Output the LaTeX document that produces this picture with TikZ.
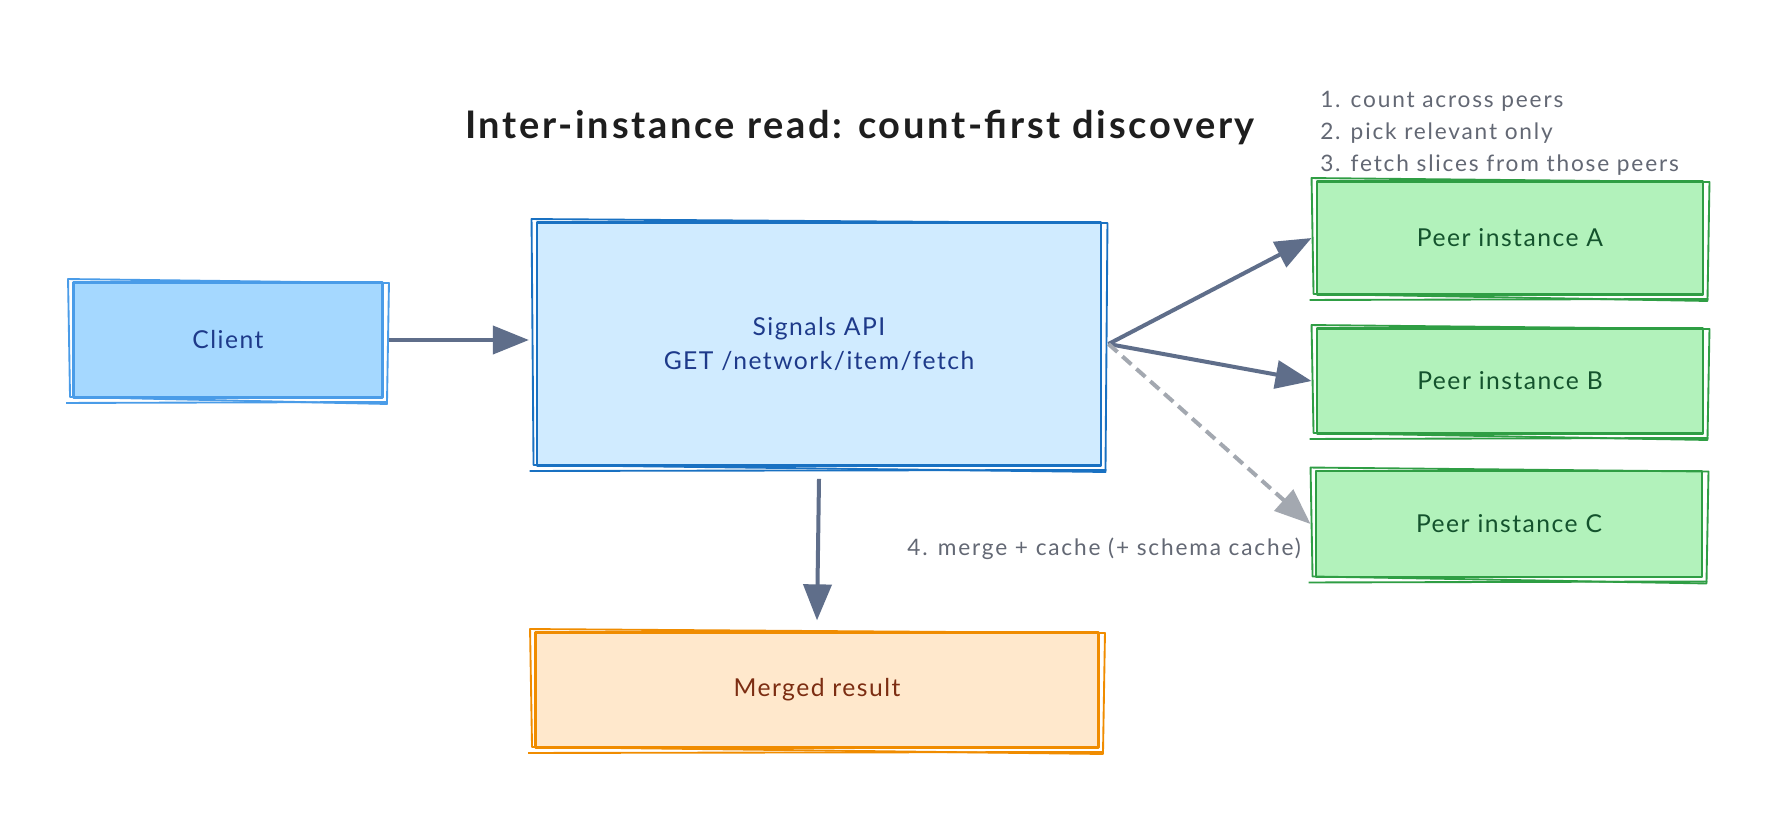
\documentclass[tikz,border=0pt]{standalone}
\usepackage{fontspec}
\setmainfont{Lato}
\usetikzlibrary{arrows.meta,calc}
\definecolor{clientfill}{HTML}{A5D8FF}
\definecolor{clientline}{HTML}{4A9CE8}
\definecolor{apifill}{HTML}{D0EBFF}
\definecolor{apiline}{HTML}{1971C2}
\definecolor{peerfill}{HTML}{B2F2BB}
\definecolor{peerline}{HTML}{2F9E44}
\definecolor{mergefill}{HTML}{FFE8CC}
\definecolor{mergeline}{HTML}{F08C00}
\definecolor{bluetext}{HTML}{1E3A8A}
\definecolor{greentext}{HTML}{14532D}
\definecolor{browntext}{HTML}{7C2D12}
\definecolor{arrowcol}{HTML}{5F6E8A}
\definecolor{dashcol}{HTML}{A3A8B0}
\definecolor{notecol}{HTML}{636874}
\definecolor{titlecol}{HTML}{1E1E1E}
\newcommand{\sketchbox}[2]{%
  \draw[#2, line width=1.4pt, line join=round]
    ([shift={(-4,-2)}]#1.north west) -- ([shift={(5,2)}]#1.north east)
    -- ([shift={(3,5)}]#1.south east) -- ([shift={(-2,-2)}]#1.south west) -- cycle;
  \draw[#2, line width=1.4pt]
    ([shift={(-6,4)}]#1.south west) -- ([shift={(4,3)}]#1.south east);
}
\tikzset{
  box/.style={draw, line width=2.2pt, line join=round, inner sep=0pt,
    font=\fontsize{18.5}{25}\selectfont\addfontfeature{LetterSpace=6}, align=center},
  clientbox/.style={box, fill=clientfill, draw=clientline, text=bluetext},
  apibox/.style={box, fill=apifill, draw=apiline, text=bluetext},
  peerbox/.style={box, fill=peerfill, draw=peerline, text=greentext,
    minimum width=289.5pt},
  mergebox/.style={box, fill=mergefill, draw=mergeline, text=browntext},
  arr/.style={draw=arrowcol, line width=3pt,
    -{Triangle[length=27pt,width=21pt,fill=arrowcol]}},
  dasharr/.style={draw=dashcol, line width=3pt, dash pattern=on 9pt off 5pt,
    -{Triangle[length=27pt,width=21pt,fill=dashcol]}},
  note/.style={text=notecol, font=\fontsize{17}{24}\selectfont\addfontfeature{LetterSpace=8}, inner sep=0pt}
}
\begin{document}
\begin{tikzpicture}[x=0.75pt,y=-0.75pt]
\useasboundingbox[fill=white] (0,0) rectangle (1780,828);
\node[text=titlecol, font=\fontsize{28.5}{34}\selectfont\bfseries\addfontfeature{LetterSpace=7}, inner sep=0pt] (title) at (860,128)
  {Inter-instance read: count-first discovery};
\node[clientbox, minimum width=231.75pt, minimum height=86.25pt] (client) at (228,340) {Client};
\node[apibox, minimum width=423pt, minimum height=182.25pt] (api) at (819,344)
  {Signals API\\GET /network/item/fetch};
\node[peerbox, minimum height=84.75pt] (peerA) at (1510,238) {Peer instance A};
\node[peerbox, minimum height=78.75pt] (peerB) at (1510,381) {Peer instance B};
\node[peerbox, minimum height=79.5pt] (peerC) at (1509,524) {Peer instance C};
\node[mergebox, minimum width=422.25pt, minimum height=86.25pt] (merged) at (817,690) {Merged result};
\sketchbox{client}{clientline}
\sketchbox{api}{apiline}
\sketchbox{peerA}{peerline}
\sketchbox{peerB}{peerline}
\sketchbox{peerC}{peerline}
\sketchbox{merged}{mergeline}
\node[note, anchor=west, align=left] (steps) at (1320,133)
  {1. count across peers\\2. pick relevant only\\3. fetch slices from those peers};
\node[note, anchor=east] (mergenote) at (1301,549) {4. merge + cache (+ schema cache)};
\coordinate (fan) at ([xshift=4.5pt]api.east);
\draw[arr] ([xshift=3.75pt]client.east) -- ([xshift=-5pt]api.west |- client.east);
\draw[arr] (fan) -- ([xshift=-3pt]peerA.west);
\draw[arr] (fan) -- ([xshift=-3pt]peerB.west);
\draw[dasharr] (fan) -- ([xshift=-3pt]peerC.west);
\draw[arr] ([yshift=-9pt]api.south) -- ([yshift=8pt]merged.north);
\end{tikzpicture}
\end{document}
